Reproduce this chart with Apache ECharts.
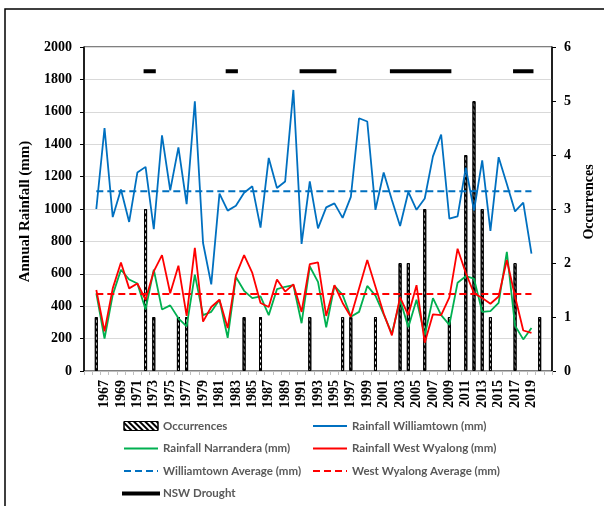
<!DOCTYPE html>
<html>
<head>
<meta charset="utf-8">
<script src="https://cdn.jsdelivr.net/npm/echarts@6/dist/echarts.min.js"></script>
<style>
html,body{margin:0;padding:0;background:#fff;}
#chart{width:604px;height:506px;}
</style>
</head>
<body>
<div id="chart"></div>
<script>
// Category axis: years 1965..2021
var years = [];
for (var y = 1965; y <= 2021; y++) years.push(String(y));

// Rainfall series, years 1966..2019
var dataStartYear = 1966;
var williamtown = [1000,1500,950,1120,920,1225,1260,875,1455,1115,
  1380,1030,1665,790,535,1095,990,1020,1100,1140,
  885,1315,1130,1170,1735,785,1170,880,1010,1035,
  945,1075,1560,1540,995,1225,1055,895,1105,995,
  1065,1325,1460,940,955,1255,990,1300,865,1320,
  1155,985,1040,725];
var westWyalong = [500,245,510,670,510,540,440,615,715,480,
  650,340,760,305,395,440,265,590,715,605,
  420,395,565,490,535,365,660,670,340,530,
  420,335,510,685,520,355,220,455,345,530,
  175,350,345,455,755,605,480,450,415,460,
  685,460,250,235];
var narrandera = [480,200,470,625,565,540,380,625,380,405,
  325,275,595,345,365,440,205,580,495,450,
  460,345,505,520,530,295,645,550,270,525,
  470,335,365,525,465,350,230,440,270,440,
  220,450,345,285,545,585,570,365,370,420,
  735,280,195,265];
var williamtownAvg = 1110;
var westWyalongAvg = 475;

// Drought occurrences (right axis)
var occYears = [1966,1972,1973,1976,1977,1984,1986,1992,1996,1997,2000,2003,2004,2006,2009,2011,2012,2013,2014,2017,2020];
var occValues = [1,3,1,1,1,1,1,1,1,1,1,2,2,3,1,4,5,3,1,2,1];

// NSW drought periods drawn at a fixed level
var droughtPeriods = [[1972,1973],[1982,1983],[1991,1995],[2002,2009],[2017,2019]];
var droughtLevel = 1850;

function padSeries(arr){
  return years.map(function(yr){
    var i = +yr - dataStartYear;
    return (i >= 0 && i < arr.length) ? arr[i] : null;
  });
}
function constSeries(v){
  return years.map(function(yr){
    var i = +yr - dataStartYear;
    return (i >= 0 && i < williamtown.length) ? v : null;
  });
}
var occData = years.map(function(yr){
  var k = occYears.indexOf(+yr);
  return k >= 0 ? occValues[k] : null;
});
var droughtData = years.map(function(yr){
  var v = null;
  droughtPeriods.forEach(function(p){ if (+yr >= p[0] && +yr <= p[1]) v = droughtLevel; });
  return v;
});

var serif = 'Liberation Serif';
var chart = echarts.init(document.getElementById('chart'), null, {renderer:'canvas'});
var legendText = {color:'#595959', fontFamily:'Lato', fontWeight:'bold', fontSize:11.5};
var decal = {symbol:'rect', symbolSize:1, dashArrayX:[1,0], dashArrayY:[2,2], rotation:Math.PI/4, color:'#000'};
var hideSym = {opacity:0};

chart.setOption({
  animation:false,
  backgroundColor:'#fff',
  graphic:[{type:'rect', shape:{x:5,y:9,width:640,height:540}, style:{fill:'none', stroke:'#000', lineWidth:1.5}, silent:true}],
  grid:{left:84, right:51, top:47, bottom:135, show:true, borderColor:'#000', borderWidth:1},
  legend:[
    {left:122, top:420, height:110, padding:0, orient:'vertical', itemWidth:34, itemHeight:9, itemGap:10.5,
     textStyle:legendText, itemStyle:hideSym, lineStyle:{width:2},
     data:[{name:'Occurrences', icon:'rect', itemStyle:{opacity:1, borderWidth:1, borderColor:'#000'}},
           'Rainfall Narrandera (mm)', 'Williamtown Average (mm)',
           {name:'NSW Drought', lineStyle:{width:4}}]},
    {left:312, top:420, height:110, padding:0, orient:'vertical', itemWidth:34, itemHeight:9, itemGap:10.5,
     textStyle:legendText, itemStyle:hideSym, lineStyle:{width:2},
     data:['Rainfall Williamtown (mm)', 'Rainfall West Wyalong (mm)', 'West Wyalong Average (mm)']}
  ],
  xAxis:{
    type:'category', data:years, boundaryGap:true,
    axisLine:{lineStyle:{color:'#bfbfbf', width:1}},
    axisTick:{show:true, interval:0, length:4, lineStyle:{color:'#bfbfbf'}},
    axisLabel:{
      interval:function(i, v){ var n = +v; return n >= 1967 && n <= 2019 && n % 2 === 1; },
      rotate:90, margin:9, color:'#000', fontFamily:serif, fontWeight:'bold', fontSize:14
    },
    splitLine:{show:false}
  },
  yAxis:[
    {type:'value', min:0, max:2000, interval:200, position:'left',
     name:'Annual Rainfall (mm)', nameLocation:'middle', nameGap:42, nameRotate:90,
     nameTextStyle:{color:'#000', fontFamily:serif, fontWeight:'bold', fontSize:15, padding:[0,5,0,0]},
     axisLine:{show:true, lineStyle:{color:'#000', width:1.5}},
     axisTick:{show:true, length:4, lineStyle:{color:'#000'}},
     axisLabel:{color:'#000', fontFamily:serif, fontWeight:'bold', fontSize:14, margin:12,
       formatter:function(v){ return String(v); }},
     splitLine:{show:true, lineStyle:{color:'#d9d9d9', width:1}}},
    {type:'value', min:0, max:6, interval:1, position:'right',
     name:'Occurrences', nameLocation:'middle', nameGap:30, nameRotate:90,
     nameTextStyle:{color:'#000', fontFamily:serif, fontWeight:'bold', fontSize:14, padding:[0,0,0,14]},
     axisLine:{show:true, lineStyle:{color:'#000', width:1.5}},
     axisTick:{show:true, length:4, lineStyle:{color:'#000'}},
     axisLabel:{color:'#000', fontFamily:serif, fontWeight:'bold', fontSize:14, margin:12},
     splitLine:{show:false}}
  ],
  series:[
    {name:'Occurrences', type:'bar', yAxisIndex:1, data:occData, barWidth:3,
     itemStyle:{color:'#fff', borderColor:'#000', borderWidth:1, decal:decal}},
    {name:'Rainfall Williamtown (mm)', type:'line', data:padSeries(williamtown), symbol:'none',
     lineStyle:{color:'#0070c0', width:1.8}, itemStyle:{color:'#0070c0'}},
    {name:'Rainfall Narrandera (mm)', type:'line', data:padSeries(narrandera), symbol:'none',
     lineStyle:{color:'#00b050', width:1.8}, itemStyle:{color:'#00b050'}},
    {name:'Rainfall West Wyalong (mm)', type:'line', data:padSeries(westWyalong), symbol:'none',
     lineStyle:{color:'#ff0000', width:1.8}, itemStyle:{color:'#ff0000'}},
    {name:'Williamtown Average (mm)', type:'line', data:constSeries(williamtownAvg), symbol:'none',
     lineStyle:{color:'#0070c0', width:2, type:[7,4]}, itemStyle:{color:'#0070c0'}},
    {name:'West Wyalong Average (mm)', type:'line', data:constSeries(westWyalongAvg), symbol:'none',
     lineStyle:{color:'#ff0000', width:2, type:[7,4]}, itemStyle:{color:'#ff0000'}},
    {name:'NSW Drought', type:'line', data:droughtData, symbol:'none', connectNulls:false,
     lineStyle:{color:'#000', width:4, cap:'square'}, itemStyle:{color:'#000'}}
  ]
});
</script>
</body>
</html>
